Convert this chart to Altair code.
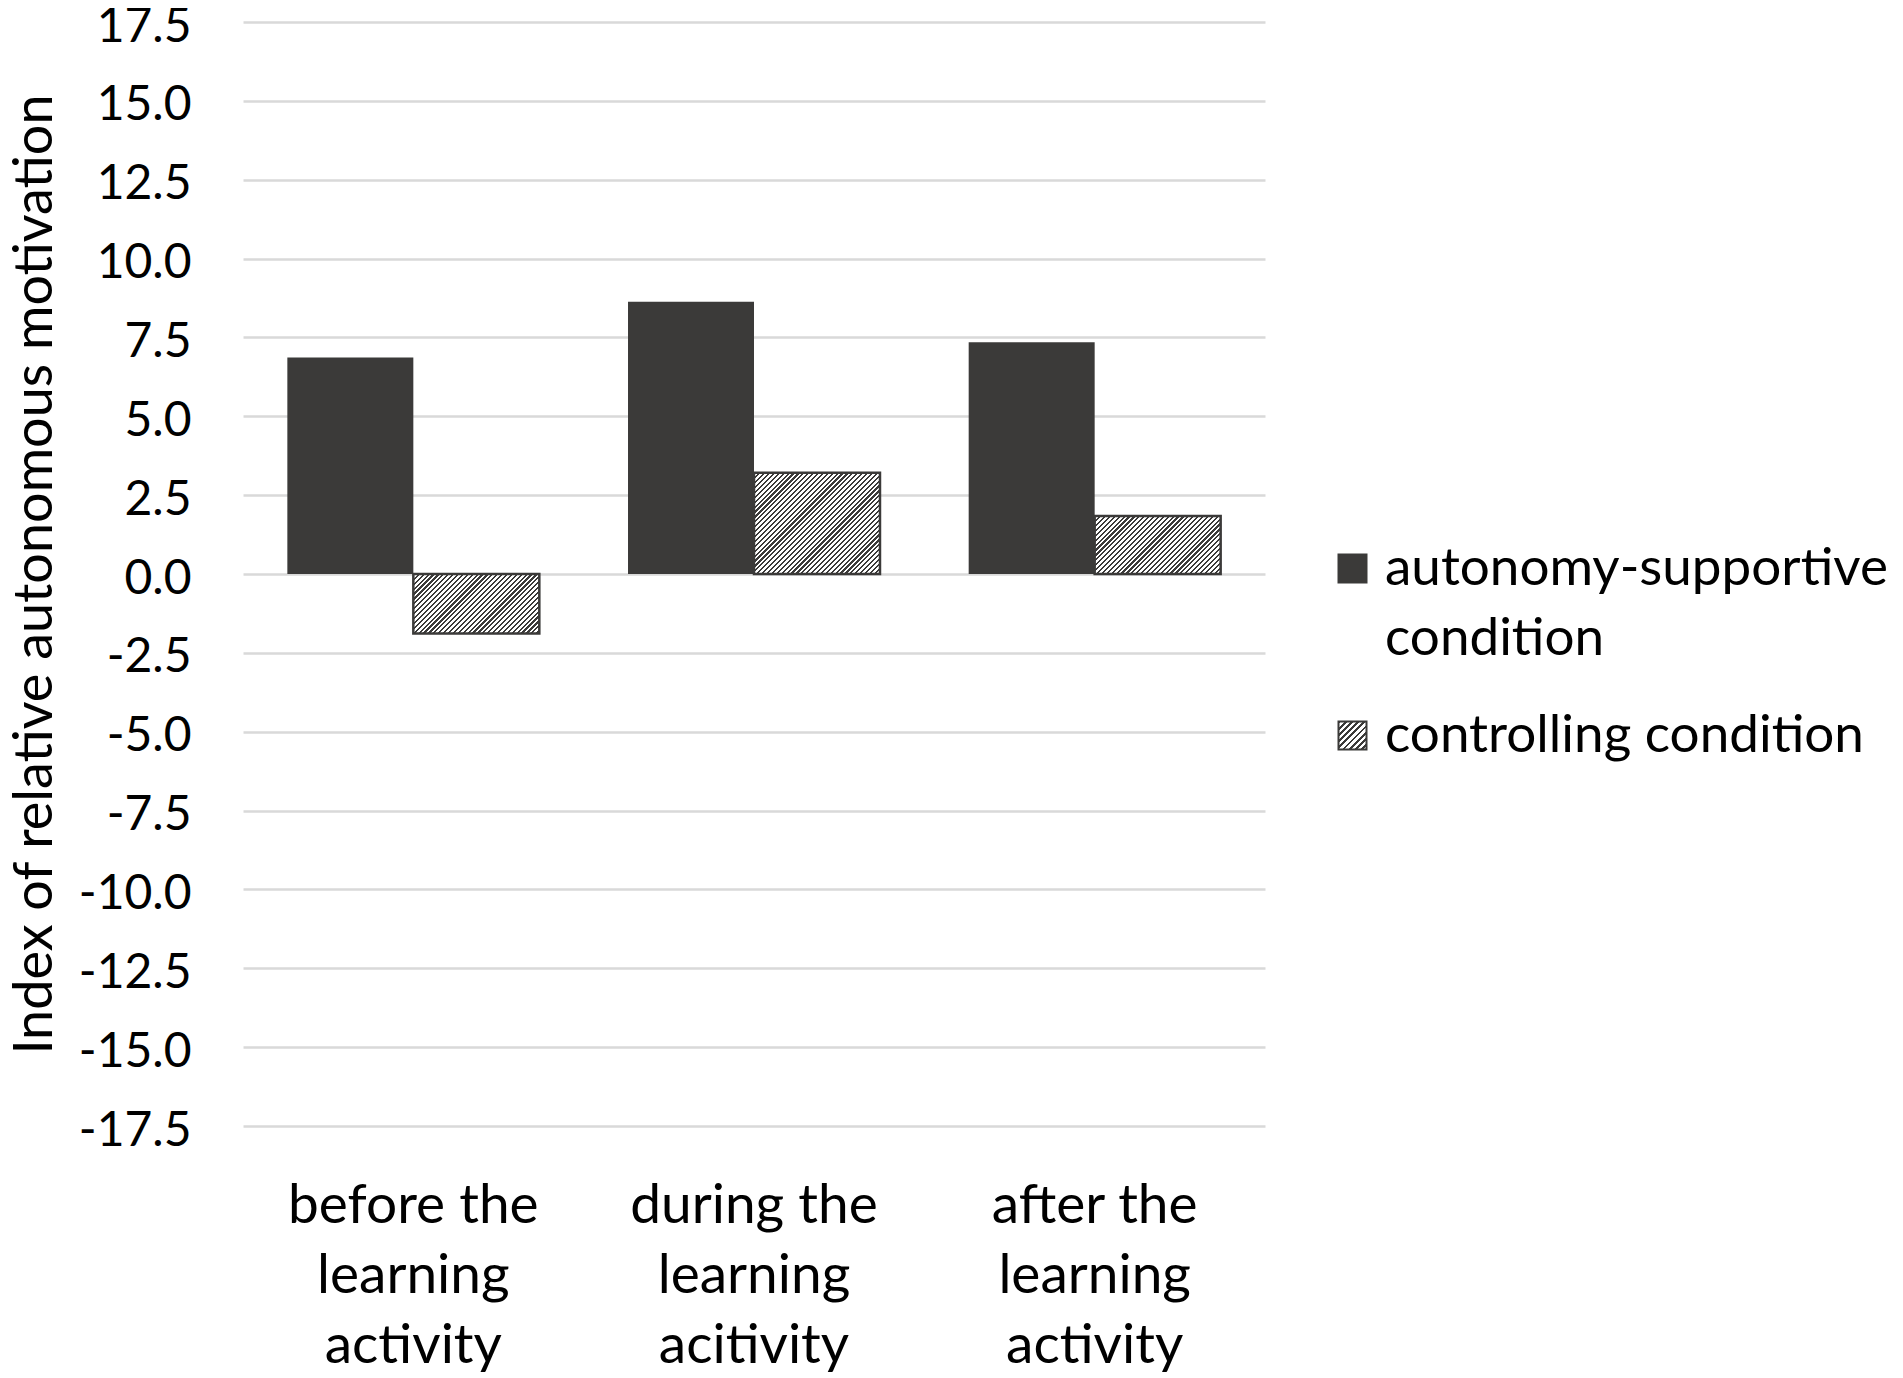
import math
import json
import altair as alt
import pandas as pd

# ---- data ----
periods = ["before the|learning|activity", "during the|learning|acitivity", "after the|learning|activity"]
series = ["autonomy-supportive condition", "controlling condition"]
autonomy = [6.86, 8.63, 7.35]
controlling = [-1.89, 3.21, 1.84]
y_ticks = [-17.5, -15.0, -12.5, -10.0, -7.5, -5.0, -2.5, 0.0, 2.5, 5.0, 7.5, 10.0, 12.5, 15.0, 17.5]
y_title = "Index of relative autonomous motivation"

rows = []
for p, a, c in zip(periods, autonomy, controlling):
    rows.append({"period": p, "series": series[0], "value": a})
    rows.append({"period": p, "series": series[1], "value": c})
df = pd.DataFrame(rows)

# ---- styling ----
W, H = 1022, 1104
DARK = "#3b3a39"
GRID = "#d9d9d9"
FONT = "Lato"
OUTER = 0.352
px_per_unit = H / (y_ticks[-1] - y_ticks[0])
bar_w = (W / len(periods)) / (2 + 2 * OUTER)


def hatch(w, h, period=4.9, frac=0.45):
    """Diagonal (/) hatch built from a hard-stop linear gradient."""
    L = w + h
    a = L / (w * w + h * h)
    n = math.ceil(L / period)
    stops = []
    for k in range(n):
        o0 = min(k * period / L, 1)
        o1 = min((k + frac) * period / L, 1)
        o2 = min((k + 1) * period / L, 1)
        stops += [
            {"offset": o0, "color": DARK},
            {"offset": o1, "color": DARK},
            {"offset": o1, "color": "#ffffff"},
            {"offset": o2, "color": "#ffffff"},
        ]
    return {"gradient": "linear", "x1": 0, "y1": 0, "x2": a * w, "y2": a * h, "stops": stops}


legend_grad = json.dumps(hatch(28, 28, period=56 / 9))

x_enc = alt.X(
    "period:N",
    sort=periods,
    scale=alt.Scale(paddingInner=0, paddingOuter=0),
    axis=alt.Axis(
        title=None,
        labelExpr="split(datum.label, '|')",
        labelAngle=0,
        labelFont=FONT,
        labelFontSize=55,
        labelColor="black",
        labelLineHeight=70,
        labelBaseline="alphabetic",
        labelPadding=96,
        grid=False,
        domain=False,
        ticks=False,
        labelLimit=1000,
    ),
)
xoff_enc = alt.XOffset(
    "series:N",
    sort=series,
    scale=alt.Scale(domain=series, paddingInner=0, paddingOuter=OUTER),
)
y_enc = alt.Y(
    "value:Q",
    scale=alt.Scale(domain=[y_ticks[0], y_ticks[-1]], nice=False, zero=False),
    axis=alt.Axis(
        title=y_title,
        values=y_ticks,
        labelExpr="(datum.value < 0 ? '-' : '') + format(abs(datum.value), '.1f')",
        labelFont=FONT,
        labelFontSize=48,
        labelColor="black",
        labelPadding=52,
        labelOffset=5,
        grid=True,
        gridColor=GRID,
        gridWidth=2.5,
        domain=False,
        ticks=False,
        tickSize=0,
        titleFont=FONT,
        titleFontSize=54,
        titleFontWeight="normal",
        titleColor="black",
        titlePadding=16,
    ),
)

base = alt.Chart(df).encode(x=x_enc, xOffset=xoff_enc, y=y_enc)

dark = base.transform_filter(alt.datum.series == series[0]).mark_bar(fill=DARK).encode(
    color=alt.Color(
        "series:N",
        scale=alt.Scale(domain=series, range=[DARK, alt.ExprRef(legend_grad)]),
        legend=alt.Legend(
            title=None,
            orient="none",
            legendX=1083,
            legendY=520,
            symbolType="square",
            symbolSize=784,
            symbolStrokeColor=DARK,
            symbolStrokeWidth=2,
            labelFont=FONT,
            labelFontSize=53,
            labelColor="black",
            labelLimit=1000,
            labelOffset=6,
            labelBaseline="middle",
            labelExpr="datum.label == 'autonomy-supportive condition' ? ['autonomy-supportive', 'condition'] : datum.label",
            rowPadding=43,
            padding=0,
        ),
    )
)

hatched = []
for i, p in enumerate(periods):
    g = hatch(bar_w, abs(controlling[i]) * px_per_unit)
    hatched.append(
        base.transform_filter((alt.datum.series == series[1]) & (alt.datum.period == p)).mark_bar(
            fill=g, stroke=DARK, strokeWidth=2.5
        )
    )

chart = (
    alt.layer(dark, *hatched)
    .properties(
        width=W,
        height=H,
        autosize=alt.AutoSizeParams(type="none"),
        padding={"left": 235, "top": 14, "right": 630, "bottom": 250},
    )
    .configure(background="white", style={"guide-label": {"lineHeight": 70}})
    .configure_view(stroke="transparent", strokeWidth=0)
)

chart.save("out.html", embed_options={"renderer": "svg", "actions": False})
